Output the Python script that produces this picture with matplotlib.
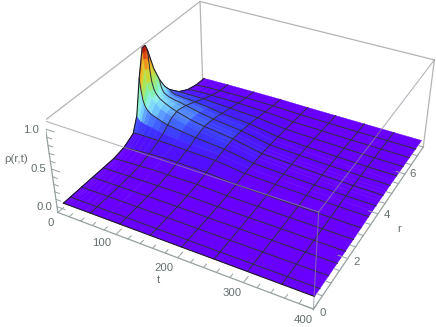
#!/usr/bin/env python3
import numpy as np
import matplotlib
matplotlib.use('Agg')
import matplotlib.pyplot as plt
from matplotlib.colors import LinearSegmentedColormap
from mpl_toolkits.mplot3d import proj3d

plt.rcParams['font.family'] = ['Liberation Sans', 'DejaVu Sans']

# grid nodes
t_nodes = [3, 3.5, 4, 5, 7, 10, 14, 20, 30, 40, 50, 75, 100, 150, 200, 250, 300, 350, 396]
r_nodes = [0.2, 0.5, 1, 1.5, 2, 2.5, 3, 3.5, 3.75, 4, 4.25, 4.4, 4.5, 4.6, 4.75, 5, 5.25, 5.5, 6, 6.5, 7, 7.5]

# rho(r,t), one row per t node
rho = np.array([
    [0, 0, 0, 0, 0, 0, .025, .10, .30, .75, 1.10, 1.10, 1.02, .90, .72, .52, .37, .27, .13, .05, .01, 0],
    [0, 0, 0, 0, 0, 0, .03, .11, .30, .70, 1.03, 1.03, .96, .85, .68, .50, .36, .27, .13, .05, .01, 0],
    [0, 0, 0, 0, 0, .001, .03, .11, .29, .65, .95, .93, .87, .78, .63, .47, .35, .26, .13, .05, .01, 0],
    [0, 0, 0, 0, 0, .002, .03, .11, .28, .58, .82, .80, .74, .67, .57, .44, .33, .25, .13, .05, .01, 0],
    [0, 0, 0, 0, 0, .004, .03, .12, .25, .46, .64, .63, .60, .56, .49, .39, .31, .24, .13, .055, .012, 0],
    [0, 0, 0, 0, 0, .006, .035, .12, .23, .39, .53, .53, .51, .48, .43, .35, .29, .23, .13, .06, .015, .002],
    [0, 0, 0, 0, .001, .008, .04, .12, .21, .34, .45, .46, .45, .43, .39, .33, .27, .22, .13, .065, .018, .003],
    [0, 0, 0, 0, .002, .01, .045, .12, .20, .30, .39, .40, .40, .385, .36, .31, .26, .22, .13, .065, .02, .004],
    [0, 0, 0, .001, .003, .014, .05, .12, .19, .27, .33, .35, .355, .35, .33, .29, .25, .21, .13, .07, .025, .005],
    [0, 0, 0, .001, .004, .017, .055, .12, .17, .24, .30, .31, .32, .32, .31, .28, .25, .21, .13, .07, .028, .007],
    [0, 0, .001, .002, .006, .02, .06, .12, .16, .22, .27, .28, .29, .29, .28, .26, .23, .20, .13, .07, .03, .008],
    [0, 0, .001, .003, .009, .03, .07, .12, .14, .19, .22, .23, .235, .235, .23, .22, .20, .18, .12, .07, .032, .01],
    [0, .001, .002, .005, .012, .03, .07, .11, .13, .165, .185, .195, .20, .20, .195, .185, .17, .15, .11, .07, .035, .012],
    [0, .001, .003, .007, .016, .033, .065, .10, .115, .13, .14, .145, .15, .15, .145, .14, .13, .12, .09, .06, .033, .014],
    [0, .001, .002, .004, .009, .018, .034, .052, .058, .063, .067, .069, .07, .07, .069, .067, .063, .058, .045, .032, .019, .009],
    [.001, .001, .002, .004, .008, .014, .025, .037, .041, .045, .048, .049, .05, .05, .049, .048, .045, .041, .033, .024, .014, .007],
    [.001, .001, .002, .004, .007, .011, .018, .026, .029, .032, .034, .035, .035, .035, .035, .034, .032, .029, .023, .017, .011, .006],
    [.001, .001, .002, .003, .005, .009, .014, .019, .021, .023, .025, .025, .025, .025, .025, .025, .023, .021, .017, .013, .008, .004],
    [.001, .001, .002, .003, .004, .007, .011, .015, .017, .018, .02, .02, .02, .02, .02, .02, .018, .017, .014, .01, .006, .003],
])

t_mesh = [50, 100, 150, 200, 250, 300, 350]
r_mesh = [0.5, 1, 1.5, 2, 2.5, 3, 3.5, 4, 4.5, 5, 5.5, 6, 6.5, 7]

t_ticks = [0, 100, 200, 300, 400]
r_ticks = [0, 2, 4, 6]
z_ticks = [0.0, 0.5, 1.0]

t_lim = (0, 400)
r_lim = (0, 7.5)
z_lim = (-0.08, 1.10)

rainbow = LinearSegmentedColormap.from_list('rho', [
    (0.00, '#6900ff'), (0.03, '#6800ff'), (0.08, '#5010ff'), (0.14, '#3c30ff'), (0.20, '#4060ff'),
    (0.30, '#70c8ff'), (0.38, '#90f0f0'), (0.47, '#80f0a0'), (0.62, '#bee13c'), (0.75, '#f0be1e'),
    (0.88, '#e65a0f'), (1.00, '#b40f0a'),
])

fig = plt.figure(figsize=(4.36, 3.27), dpi=100)
side, left, bottom = 395.4, 46.2, -10.99
ax = fig.add_axes([left / 436, bottom / 327, side / 436, side / 327],
                  projection='3d', computed_zorder=False)
ax.set_xlim(t_lim)
ax.set_ylim(r_lim)
ax.set_zlim(z_lim)
ax.view_init(elev=34.44, azim=-61.52)
ax.set_proj_type('persp', focal_length=0.441)
ax.set_box_aspect((0.9987, 1, 0.3896))
ax.set_axis_off()
ax.patch.set_alpha(0)

T, R = np.meshgrid(t_nodes, r_nodes, indexing='ij')
face = np.zeros_like(rho)
face[:-1, :-1] = (rho[:-1, :-1] + rho[1:, :-1] + rho[:-1, 1:] + rho[1:, 1:]) / 4
face[-1, :] = face[-2, :]
face[:, -1] = face[:, -2]
ax.plot_surface(T, R, rho, facecolors=rainbow(face / 1.09), rstride=1, cstride=1,
                shade=False, linewidth=0.3, antialiased=True, zorder=2)

box = '#b4b4b4'
axis_col = '#96a0a0'
z0, z1 = z_lim
t0, t1 = t_lim
r0, r1 = r_lim


def seg(a, b, col=box, lw=0.9, zo=1, alpha=1):
    ax.plot([a[0], b[0]], [a[1], b[1]], [a[2], b[2]], color=col, lw=lw, zorder=zo, alpha=alpha)


# back of the box, under the surface
seg((t0, r0, z1), (t0, r1, z1))
seg((t0, r1, z1), (t1, r1, z1))
seg((t0, r1, z0), (t0, r1, z1))
seg((t1, r1, z0), (t1, r1, z1))
seg((t0, r0, z0), (t0, r0, z1), col=axis_col)
seg((t0, r0, z0), (t1, r0, z0), col=axis_col)
seg((t1, r0, z0), (t1, r1, z0), col=axis_col, zo=3)

# mesh
mesh_col = '#2e2e3c'
i_t = [t_nodes.index(v) for v in t_mesh]
i_r = [r_nodes.index(v) for v in r_mesh]
for i in i_t:
    ax.plot(T[i, :], R[i, :], rho[i, :], color=mesh_col, lw=0.7, zorder=3)
for j in i_r:
    ax.plot(T[:, j], R[:, j], rho[:, j], color=mesh_col, lw=0.7, zorder=3)
# dark outline on the two near edges
ax.plot(T[0, :], R[0, :], rho[0, :], color='#1e1e28', lw=0.8, zorder=3)
ax.plot(T[:, 0], R[:, 0], rho[:, 0], color='#1e1e28', lw=0.8, zorder=3)

# front of the box, over the surface
seg((t0, r0, z1), (t1, r0, z1), col='#8c8c96', lw=0.8, zo=4, alpha=0.65)
seg((t1, r0, z1), (t1, r1, z1), col='#8c8c96', lw=0.8, zo=4, alpha=0.65)
seg((t1, r0, z0), (t1, r0, z1), col='#8c8c96', lw=0.8, zo=4, alpha=0.65)

# ticks
for v in range(0, 401, 20):
    n = 0.24 if v % 100 == 0 else 0.14
    seg((v, r0, z0), (v, r0 + n, z0), col=axis_col, lw=0.7, zo=1)
for v in np.arange(0, 7.51, 0.5):
    n = 14 if v % 2 == 0 else 8
    seg((t1, v, z0), (t1 - n, v, z0), col=axis_col, lw=0.7, zo=4)
for v in np.arange(0, 1.01, 0.1):
    n = 14 if round(v * 10) % 5 == 0 else 8
    seg((t0, r0, v), (t0 + n, r0, v), col=axis_col, lw=0.7, zo=1)

text_col = '#646e6e'
M = ax.get_proj()


def label(txt, p, dx, dy, size=8.2):
    x, y, _ = proj3d.proj_transform(p[0], p[1], p[2], M)
    ax.annotate(txt, xy=(x, y), xycoords='data', xytext=(dx * 0.72, -dy * 0.72), textcoords='offset points',
                ha='center', va='center', color=text_col, fontsize=size, annotation_clip=False)


t_off = [(-7, 10), (-14, 9), (-14, 10), (-11, 10), (-10, 11)]
for v, o in zip(t_ticks, t_off):
    label(str(v), (v, r0, z0), *o)
r_off = [(9, 4), (9, 3), (9, 1), (8, 0)]
for v, o in zip(r_ticks, r_off):
    label(str(v), (t1, v, z0), *o)
z_off = [(-13, 0), (-13, 0), (-15, 1)]
for v, o in zip(z_ticks, z_off):
    label('%.1f' % v, (t0, r0, v), *o)
label('t', (200, r0, z0), -19, 22)
label('r', (t1, 4, z0), 21, 15)
label('\u03c1(r,t)', (t0, r0, 0.5), -35, -10)

fig.savefig('out.png', dpi=100)
